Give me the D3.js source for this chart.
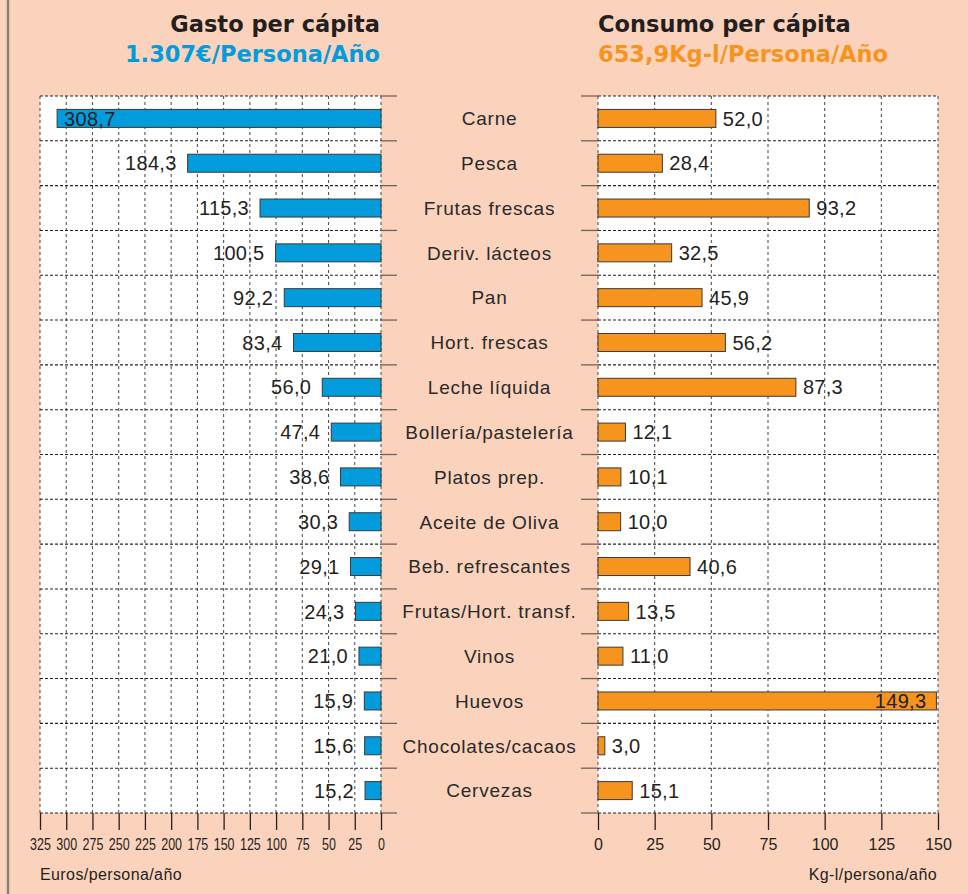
<!DOCTYPE html>
<html>
  <head>
    <meta charset="UTF-8" />
    <script src="https://d3js.org/d3.v7.min.js"></script>
    <title>Gasto y consumo per cápita</title>
    <style>
      body { margin: 0; background: #fbd3bd; }
      svg { display: block; }
      text { font-family: "Liberation Sans", Arial, sans-serif; fill: #231f20; }
    </style>
  </head>
  <body>
    <div id="chart"></div>
    <script type="text/javascript">
      // datos
      const categorias = [
        "Carne", "Pesca", "Frutas frescas", "Deriv. lácteos", "Pan",
        "Hort. frescas", "Leche líquida", "Bollería/pastelería", "Platos prep.",
        "Aceite de Oliva", "Beb. refrescantes", "Frutas/Hort. transf.", "Vinos",
        "Huevos", "Chocolates/cacaos", "Cervezas"
      ];
      const gasto = [308.7, 184.3, 115.3, 100.5, 92.2, 83.4, 56.0, 47.4, 38.6, 30.3, 29.1, 24.3, 21.0, 15.9, 15.6, 15.2];
      const consumo = [52.0, 28.4, 93.2, 32.5, 45.9, 56.2, 87.3, 12.1, 10.1, 10.0, 40.6, 13.5, 11.0, 149.3, 3.0, 15.1];
      const ticksGasto = [0, 25, 50, 75, 100, 125, 150, 175, 200, 225, 250, 275, 300, 325];
      const ticksConsumo = [0, 25, 50, 75, 100, 125, 150];

      const w = 968, h = 894;
      const arriba = 96, abajo = 813;
      const azul = "#029cdc", naranja = "#f7941e";

      const svg = d3.select("#chart").append("svg").attr("width", w).attr("height", h);
      svg.append("rect").attr("width", w).attr("height", h).attr("fill", "#fbd3bd");
      // borde izquierdo
      svg.append("line").attr("x1", 8).attr("x2", 8).attr("y1", 0).attr("y2", h)
        .attr("stroke", "#8c7f78").attr("stroke-width", 2.5);

      const y = d3.scaleBand().domain(categorias).range([arriba, abajo]);
      const xL = d3.scaleLinear().domain([0, 325]).range([381, 40]);
      const xR = d3.scaleLinear().domain([0, 150]).range([598, 938]);

      const fmt = v => d3.format(".1f")(v).replace(".", ",");

      function panel(x, valores, ticks, color, izq) {
        const x0 = x.range()[0], x1 = x.range()[1];
        const xmin = Math.min(x0, x1), xmax = Math.max(x0, x1);
        const g = svg.append("g");
        g.append("rect").attr("x", xmin).attr("y", arriba).attr("width", xmax - xmin)
          .attr("height", abajo - arriba).attr("fill", "#fff");

        // rejilla vertical
        g.selectAll(".vg").data(ticks).enter().append("line")
          .attr("x1", d => x(d)).attr("x2", d => x(d))
          .attr("y1", arriba).attr("y2", abajo)
          .attr("stroke", "#555").attr("stroke-width", 1.1)
          .attr("stroke-dasharray", "3,3");

        // rejilla horizontal (limites de filas)
        const limites = categorias.map(c => y(c)).concat([abajo]);
        g.selectAll(".hg").data(limites).enter().append("line")
          .attr("x1", xmin).attr("x2", xmax)
          .attr("y1", d => d).attr("y2", d => d)
          .attr("stroke", "#222").attr("stroke-width", 1.1)
          .attr("stroke-dasharray", "3,2");

        // marcas solidas hacia el centro
        const ext = izq ? [381, 397] : [581, 598];
        g.selectAll(".ext").data(limites).enter().append("line")
          .attr("x1", ext[0]).attr("x2", ext[1])
          .attr("y1", d => d).attr("y2", d => d)
          .attr("stroke", "#6e625d").attr("stroke-width", 1.3);

        // barras
        const bh = 18;
        g.selectAll(".bar").data(valores).enter().append("rect")
          .attr("x", d => Math.min(x(0), x(d)))
          .attr("y", (d, i) => y(categorias[i]) + y.bandwidth() / 2 - bh / 2)
          .attr("width", d => Math.abs(x(d) - x(0)))
          .attr("height", bh)
          .attr("fill", color).attr("stroke", "#3a3a3a").attr("stroke-width", 1);

        // etiquetas de valor
        g.selectAll(".val").data(valores).enter().append("text")
          .attr("y", (d, i) => y(categorias[i]) + y.bandwidth() / 2)
          .attr("dy", "0.36em")
          .style("font-size", "20px")
          .style("letter-spacing", "0.3px")
          .each(function (d) {
            const t = d3.select(this);
            const dentro = izq ? x(d) < 100 : x(d) > 880;
            if (izq) {
              if (dentro) t.attr("x", x(d) + 7).attr("text-anchor", "start");
              else t.attr("x", x(d) - 11).attr("text-anchor", "end");
            } else {
              if (dentro) t.attr("x", x(d) - 10).attr("text-anchor", "end");
              else t.attr("x", x(d) + 7).attr("text-anchor", "start");
            }
          })
          .text(d => fmt(d));

        // eje
        const axis = g.append("g").attr("transform", "translate(0," + abajo + ")")
          .call(d3.axisBottom(x).tickValues(ticks).tickSize(17).tickPadding(9).tickFormat(d3.format("d")));
        axis.select(".domain").remove();
        axis.selectAll(".tick line").attr("stroke", "#222").attr("stroke-width", 1.3);
        axis.selectAll(".tick text")
          .style("font-family", "'Liberation Sans', Arial, sans-serif")
          .style("font-size", "16px")
          .attr("transform", izq ? "scale(0.78,1)" : null)
          .attr("fill", "#231f20");
      }

      panel(xL, gasto, ticksGasto, azul, true);
      panel(xR, consumo, ticksConsumo, naranja, false);

      // categorias centrales
      svg.selectAll(".cat").data(categorias).enter().append("text")
        .attr("x", 489.5)
        .attr("y", d => y(d) + y.bandwidth() / 2)
        .attr("dy", "0.36em")
        .attr("text-anchor", "middle")
        .style("font-size", "19px")
        .style("letter-spacing", "0.8px")
        .style("fill", "#2a2a2a")
        .text(d => d);

      // titulos
      const titulo = (x, yy, txt, color, anchor) =>
        svg.append("text").attr("x", x).attr("y", yy).attr("text-anchor", anchor)
          .style("font-family", "'DejaVu Sans', sans-serif")
          .style("font-size", "22.5px").style("font-weight", "bold")
          .style("fill", color).text(txt);
      titulo(380, 32, "Gasto per cápita", "#231f20", "end");
      titulo(380, 62, "1.307€/Persona/Año", azul, "end");
      titulo(598, 32, "Consumo per cápita", "#231f20", "start");
      titulo(598, 62, "653,9Kg-l/Persona/Año", naranja, "start");

      // titulos de eje
      svg.append("text").attr("x", 40).attr("y", 880)
        .style("font-size", "16px").style("letter-spacing", "0.4px")
        .text("Euros/persona/año");
      svg.append("text").attr("x", 937).attr("y", 880).attr("text-anchor", "end")
        .style("font-size", "16px").style("letter-spacing", "0.4px")
        .text("Kg-l/persona/año");
    </script>
  </body>
</html>
